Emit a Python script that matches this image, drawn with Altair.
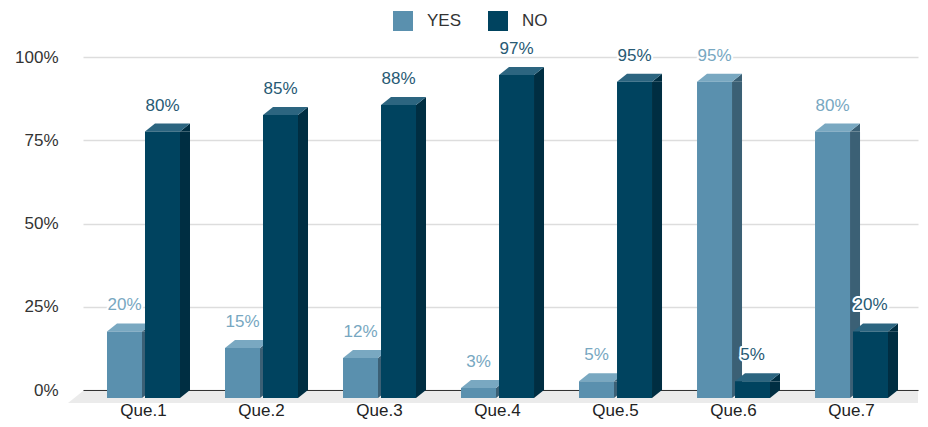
import altair as alt
import pandas as pd

# ---- data ----
categories = ["Que.1", "Que.2", "Que.3", "Que.4", "Que.5", "Que.6", "Que.7"]
yes_values = [20, 15, 12, 3, 5, 95, 80]
no_values = [80, 85, 88, 97, 95, 5, 20]
series_names = ["YES", "NO"]

# ---- styles ----
W, H = 835, 333
FRONT_W = 35
DX, DY = 10, 8
FONT = "Liberation Sans"
colors = {
    "YES": {"front": "#5a90ae", "top": "#79a8c1", "side": "#3b6075", "label": "#77a7c1"},
    "NO": {"front": "#00435f", "top": "#2c6580", "side": "#002e42", "label": "#275a74"},
}
offsets = {"YES": -19, "NO": 19}

rows = []
for i, c in enumerate(categories):
    rows.append({"cat": c, "series": "YES", "value": yes_values[i]})
    rows.append({"cat": c, "series": "NO", "value": no_values[i]})
df = pd.DataFrame(rows)

x_scale = alt.Scale(domain=categories, paddingInner=0, paddingOuter=0.038, align=0.167)
y_scale = alt.Scale(domain=[0, 100], nice=False)
color_scale = alt.Scale(domain=series_names, range=[colors["YES"]["front"], colors["NO"]["front"]])

x_enc = alt.X("cat:N", scale=x_scale, sort=categories,
              axis=alt.Axis(title=None, labelAngle=0, ticks=False, domain=True,
                            domainColor="#333333", domainWidth=1.2,
                            labelFontSize=17, labelColor="#222222", labelFont=FONT,
                            labelPadding=12, grid=False))
y_enc = alt.Y("value:Q", scale=y_scale,
              axis=alt.Axis(title=None, values=[0, 25, 50, 75, 100],
                            labelExpr="datum.value + '%'", domain=False, ticks=False,
                            grid=True, gridColor="#dddddd", gridWidth=1.5,
                            labelFontSize=17, labelColor="#333333", labelFont=FONT,
                            labelPadding=25))

base = alt.Chart(df)


def poly(points):
    return "M " + " L ".join(f"{px} {py}" for px, py in points) + " Z"


layers = []

# floor
floor = alt.Chart(pd.DataFrame({"v": [0]})).mark_point(
    shape=poly([(0, 1), (W, 1), (W, 13), (-15, 13)]),
    size=4, filled=True, opacity=1, strokeWidth=0, color="#ebebeb"
).encode(x=alt.value(0), y=alt.Y("v:Q", scale=y_scale))
layers.append(floor)

for s in series_names:
    o = offsets[s]
    L = o - FRONT_W / 2
    R = o + FRONT_W / 2
    sub = base.transform_filter(alt.datum.series == s)
    # side face (rectangle part)
    side = sub.mark_bar(width=DX, xOffset=R + DX / 2, yOffset=DY, y2Offset=0).encode(
        x=x_enc, y=y_enc, y2=alt.datum(0), color=alt.value(colors[s]["side"]))
    # side face top triangle
    side_top = sub.mark_point(
        shape=poly([(R, DY), (R + DX, 0), (R + DX, DY)]),
        size=4, filled=True, opacity=1, strokeWidth=0, color=colors[s]["side"]
    ).encode(x=x_enc, y=y_enc)
    # side face bottom triangle
    side_bot = sub.mark_point(
        shape=poly([(R, 0), (R + DX, 0), (R, DY)]),
        size=4, filled=True, opacity=1, strokeWidth=0, color=colors[s]["side"]
    ).encode(x=x_enc, y=alt.Y("zero:Q", scale=y_scale)).transform_calculate(zero="0")
    # top face
    top = sub.mark_point(
        shape=poly([(L, DY), (R, DY), (R + DX, 0), (L + DX, 0)]),
        size=4, filled=True, opacity=1, strokeWidth=0, color=colors[s]["top"]
    ).encode(x=x_enc, y=y_enc)
    # front face
    front = sub.mark_bar(width=FRONT_W, xOffset=o, yOffset=DY, y2Offset=DY).encode(
        x=x_enc, y=y_enc, y2=alt.datum(0),
        color=alt.Color("series:N", scale=color_scale,
                        legend=alt.Legend(title=None, orient="none", legendX=310, legendY=-46,
                                          direction="horizontal", symbolType="square",
                                          symbolSize=400, symbolStrokeWidth=0,
                                          labelFontSize=17, labelFont=FONT, labelColor="#333333",
                                          labelOffset=14, columnPadding=26)))
    layers += [side, side_top, side_bot, top, front]

for s in series_names:
    o = offsets[s]
    sub = base.transform_filter(alt.datum.series == s).transform_calculate(
        lab="datum.value + '%'")
    halo = sub.mark_text(dy=-18, xOffset=o, fontSize=17, font=FONT, stroke="white",
                         strokeWidth=4, strokeJoin="round", fill="white").encode(
        x=x_enc, y=y_enc, text="lab:N")
    txt = sub.mark_text(dy=-18, xOffset=o, fontSize=17, font=FONT,
                        fill=colors[s]["label"]).encode(
        x=x_enc, y=y_enc, text="lab:N")
    layers += [halo, txt]

chart = alt.layer(*layers).properties(
    width=W, height=H,
    autosize=alt.AutoSizeParams(type="none"),
    padding={"left": 75, "top": 49, "right": 2, "bottom": 29},
).configure_view(stroke=None)

chart.save("out.html", embed_options={"renderer": "svg", "actions": False})
